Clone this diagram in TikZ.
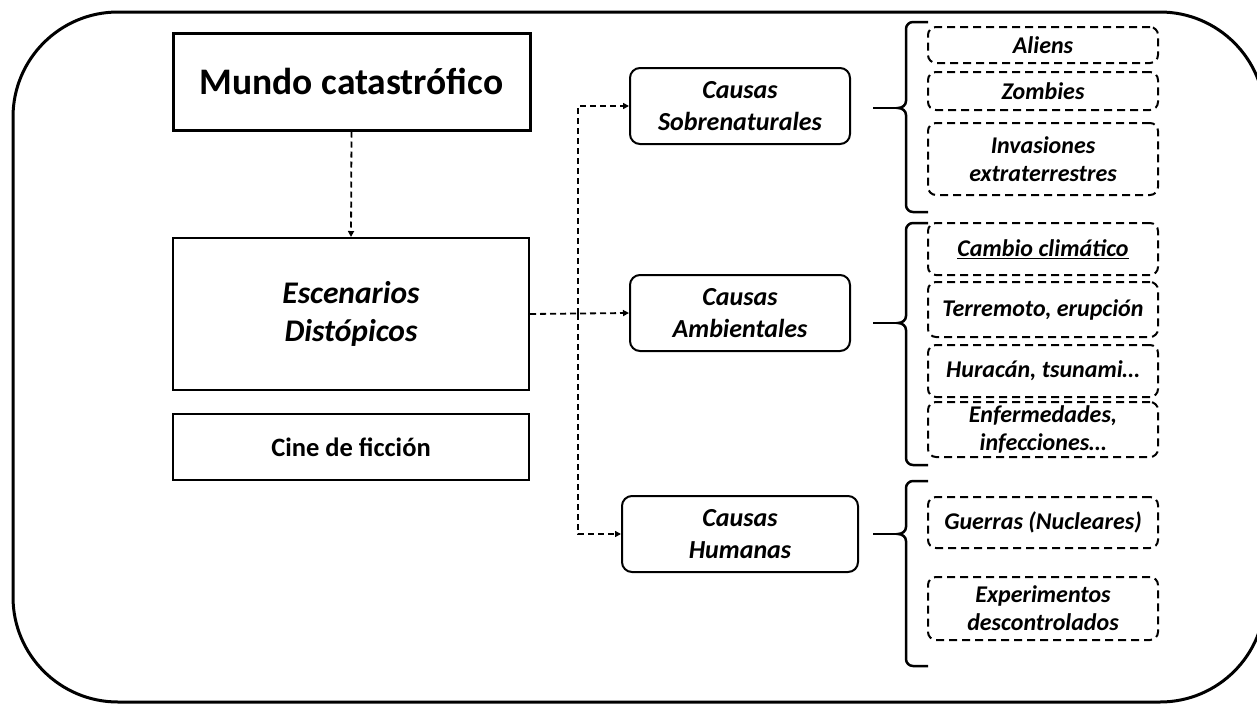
\documentclass[tikz,border=0pt]{standalone}
\usepackage{fontspec}
\setmainfont{Carlito}
\usetikzlibrary{arrows.meta}
\begin{document}
\begin{tikzpicture}[x=1pt,y=-1pt,
  mainbox/.style={draw, line width=2pt, inner sep=0pt, align=center},
  causebox/.style={draw, line width=2pt, rounded corners=10pt, inner sep=0pt,
    minimum height=76pt, align=center,
    font=\fontsize{26}{32}\selectfont\bfseries\itshape},
  itembox/.style={draw, line width=2pt, dash pattern=on 8pt off 5pt,
    rounded corners=8pt, inner sep=0pt, minimum width=230pt, align=center,
    font=\fontsize{24}{28}\selectfont\bfseries\itshape},
  flow/.style={line width=1.8pt, dash pattern=on 6pt off 4pt,
    -{Triangle[length=6pt,width=6pt]}},
  bracestyle/.style={line width=2.5pt},
  link/.style={line width=2.5pt, shorten <=22pt}]
\useasboundingbox (0,0) rectangle (1257,704);
\clip (0,0) rectangle (1257,704);
\fill[white] (0,0) rectangle (1257,704);
% outer frame
\draw[line width=3pt, rounded corners=105pt] (13,12) rectangle (1265,702);

% left column
\node[mainbox, line width=3pt, minimum width=357pt, minimum height=97pt,
  font=\fontsize{37.5}{42}\selectfont\bfseries] (mundo) at (351.5,81.5) {Mundo catastrófico};
\node[mainbox, minimum width=356pt, minimum height=152pt,
  font=\fontsize{31.5}{38}\selectfont\bfseries\itshape] (esc) at (351,314) {Escenarios\\Distópicos};
\node[mainbox, minimum width=356pt, minimum height=66pt,
  font=\fontsize{26.5}{30}\selectfont\bfseries] (cine) at (351,447) {Cine de ficción};

% causes
\node[causebox, minimum width=220pt] (sob) at (740,106) {Causas\\Sobrenaturales};
\node[causebox, minimum width=220pt] (amb) at (740,313) {Causas\\Ambientales};
\node[causebox, minimum width=236pt] (hum) at (740,534) {Causas\\Humanas};

% items
\node[itembox, minimum height=36pt] (ali) at (1043,45) {Aliens};
\node[itembox, minimum height=38pt] (zom) at (1043,91) {Zombies};
\node[itembox, minimum height=72pt] (inv) at (1043,159) {Invasiones\\extraterrestres};
\node[itembox, minimum height=52pt] (cam) at (1043,249) {\underline{Cambio climático}};
\node[itembox, minimum height=55pt] (ter) at (1043,309.5) {Terremoto, erupción};
\node[itembox, minimum height=52pt] (hur) at (1043,371) {Huracán, tsunami…};
\node[itembox, minimum height=55pt] (enf) at (1043,429.5) {Enfermedades,\\infecciones…};
\node[itembox, minimum height=51pt] (gue) at (1043,522.5) {Guerras (Nucleares)};
\node[itembox, minimum height=63pt] (exp) at (1043,608.5) {Experimentos\\descontrolados};

% dashed flow connectors
\draw[flow] (mundo.south) -- (esc.north);
\coordinate (split) at (578,314);
\draw[flow] (esc.east) -- (amb.west);
\draw[flow] (split) |- (sob.west);
\draw[flow] (split) |- (hum.west);

% braces
\coordinate (t1) at (898,108);
\coordinate (t2) at (898,323);
\coordinate (t3) at (898,534);
\draw[bracestyle] (928,22) -- (913,22) to[out=180,in=90] (906,29) -- (906,101)
  to[out=-90,in=0] (t1) to[out=0,in=90] (906,115) -- (906,205)
  to[out=-90,in=180] (913,212) -- (928,212);
\draw[bracestyle] (928,223) -- (913,223) to[out=180,in=90] (906,230) -- (906,316)
  to[out=-90,in=0] (t2) to[out=0,in=90] (906,330) -- (906,458)
  to[out=-90,in=180] (913,465) -- (928,465);
\draw[bracestyle] (928,481) -- (913,481) to[out=180,in=90] (906,488) -- (906,527)
  to[out=-90,in=0] (t3) to[out=0,in=90] (906,541) -- (906,659)
  to[out=-90,in=180] (913,666) -- (928,666);

% solid links
\draw[link] (sob.east |- t1) -- (t1);
\draw[link] (amb.east |- t2) -- (t2);
\draw[link, shorten <=14pt] (hum.east |- t3) -- (t3);
\end{tikzpicture}
\end{document}
